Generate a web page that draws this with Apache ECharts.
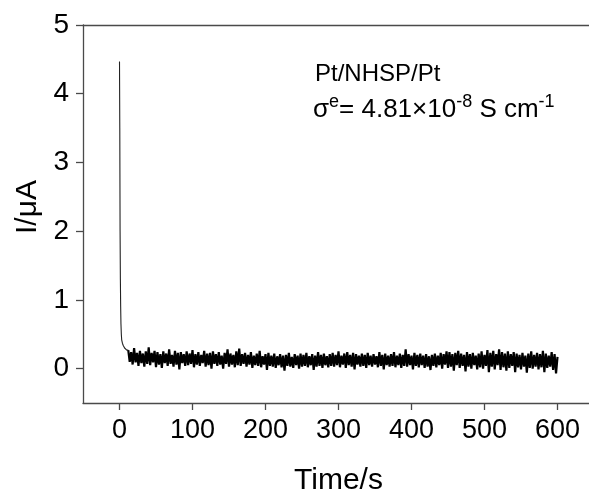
<!DOCTYPE html>
<html>
<head>
<meta charset="utf-8">
<script src="https://cdn.jsdelivr.net/npm/echarts@6/dist/echarts.min.js"></script>
<style>
  html, body { margin: 0; padding: 0; background: #fff; }
  #chart { width: 589px; height: 496px; }
</style>
</head>
<body>
<div id="chart"></div>
<script>
// initial decay right after the step (s, µA)
const decayTime = [0, 0.4, 0.8, 1.2, 1.6, 2, 2.5, 3, 4, 5, 6, 7, 8, 9, 10, 11, 12];
const decayCurrent = [4.47, 3.5, 2.0, 1.3, 0.9, 0.65, 0.5, 0.42, 0.37, 0.34, 0.32, 0.3, 0.29, 0.28, 0.27, 0.26, 0.27];

// steady-state current, sampled every 2 s from 12 s to 600 s
const baseStart = 12;
const baseStep = 2;
const baseCurrent = [
  0.27, 0.10, 0.24, 0.06, 0.30, 0.09, 0.23, 0.04, 0.26, 0.08, 0.22, 0.03, 0.25, 0.07, 0.31, 0.05, 0.23, 0.09, 0.26, 0.02,
  0.24, 0.06, 0.21, 0.01, 0.25, 0.08, 0.22, 0.04, 0.28, 0.07, 0.20, 0.03, 0.26, 0.06, 0.23, -0.01, 0.24, 0.08, 0.21, 0.04,
  0.25, 0.05, 0.22, 0.07, 0.27, 0.02, 0.21, 0.06, 0.24, 0.04, 0.20, 0.08, 0.26, 0.03, 0.22, 0.05, 0.23, 0.00, 0.25, 0.07,
  0.21, 0.04, 0.24, 0.06, 0.19, 0.00, 0.23, 0.07, 0.28, 0.03, 0.22, 0.06, 0.20, 0.02, 0.25, 0.05, 0.29, 0.04, 0.21, 0.07,
  0.23, 0.03, 0.20, 0.06, 0.24, 0.01, 0.19, 0.05, 0.22, 0.04, 0.26, 0.02, 0.18, 0.06, 0.21, -0.02, 0.23, 0.04, 0.19, 0.03,
  0.22, 0.01, 0.18, 0.05, 0.21, 0.02, 0.19, -0.03, 0.20, 0.04, 0.23, 0.03, 0.17, 0.01, 0.21, 0.05, 0.19, 0.00, 0.22, 0.03,
  0.20, 0.04, 0.23, 0.02, 0.18, 0.05, 0.21, -0.02, 0.19, 0.03, 0.24, 0.04, 0.20, 0.01, 0.22, 0.05, 0.18, 0.02, 0.21, 0.04,
  0.23, 0.03, 0.20, 0.05, 0.25, 0.02, 0.19, 0.06, 0.22, 0.01, 0.24, 0.05, 0.20, 0.03, 0.23, -0.01, 0.21, 0.06, 0.19, 0.03,
  0.22, 0.04, 0.20, 0.01, 0.23, 0.05, 0.19, 0.03, 0.21, 0.06, 0.18, 0.02, 0.24, 0.04, 0.20, -0.01, 0.22, 0.05, 0.19, 0.03,
  0.21, 0.04, 0.24, 0.02, 0.19, 0.05, 0.22, 0.01, 0.20, 0.04, 0.28, 0.03, 0.21, 0.05, 0.19, -0.01, 0.23, 0.04, 0.20, 0.02,
  0.22, 0.05, 0.19, 0.01, 0.21, 0.03, 0.18, -0.02, 0.20, 0.04, 0.22, 0.02, 0.19, 0.05, 0.23, 0.00, 0.21, 0.06, 0.25, 0.01,
  0.24, 0.03, 0.21, -0.03, 0.23, 0.05, 0.26, 0.01, 0.22, 0.04, 0.20, -0.04, 0.24, 0.03, 0.21, 0.00, 0.23, 0.05, 0.19, -0.01,
  0.22, 0.02, 0.25, 0.00, 0.20, 0.04, 0.27, -0.05, 0.23, 0.03, 0.26, -0.01, 0.21, 0.05, 0.28, -0.02, 0.24, 0.02, 0.22, -0.03,
  0.25, 0.01, 0.21, 0.04, 0.24, -0.05, 0.22, 0.02, 0.20, -0.01, 0.23, 0.03, 0.19, -0.06, 0.22, 0.01, 0.25, 0.00, 0.20, 0.03,
  0.23, -0.01, 0.21, 0.02, 0.26, -0.05, 0.22, 0.01, 0.19, 0.03, 0.24, -0.02, 0.21, -0.07, 0.17
];

const xTicks = [0, 100, 200, 300, 400, 500, 600];
const yTicks = [0, 1, 2, 3, 4, 5];

const decayPoints = decayTime.map((t, i) => [t, decayCurrent[i]]);
const basePoints = baseCurrent.map((v, i) => [baseStart + i * baseStep, v]);

const axisColor = '#4a4a4a';
const font = 'Liberation Sans, Arial, sans-serif';

const chart = echarts.init(document.getElementById('chart'));
chart.setOption({
  animation: false,
  grid: { left: 83, top: 25, right: -5, bottom: 93, outerBoundsMode: 'none', containLabel: false },
  xAxis: [{
    type: 'value',
    min: -50, max: 650,
    name: 'Time/s',
    nameLocation: 'middle',
    nameGap: 63,
    nameTextStyle: { fontFamily: font, fontSize: 30, color: '#000' },
    axisLine: { onZero: false, lineStyle: { color: axisColor, width: 1.3 } },
    axisTick: { show: true, inside: false, length: 7, customValues: xTicks, lineStyle: { color: axisColor, width: 1.3 } },
    axisLabel: { customValues: xTicks, margin: 14, fontFamily: font, fontSize: 27, color: '#000' },
    splitLine: { show: false }
  }, {
    // top frame line only
    type: 'value',
    position: 'top',
    min: -50, max: 650,
    axisLine: { show: true, onZero: false, lineStyle: { color: axisColor, width: 1.3 } },
    axisTick: { show: false },
    axisLabel: { show: false },
    splitLine: { show: false }
  }],
  yAxis: {
    type: 'value',
    min: -0.5, max: 5,
    name: 'I/μA',
    nameLocation: 'middle',
    nameGap: 40,
    nameRotate: 90,
    nameTextStyle: { fontFamily: font, fontSize: 30, color: '#000', padding: [0, 0, 0, 14] },
    axisLine: { onZero: false, lineStyle: { color: axisColor, width: 1.3 } },
    axisTick: { show: true, inside: false, length: 7, customValues: yTicks, lineStyle: { color: axisColor, width: 1.3 } },
    axisLabel: { customValues: yTicks, margin: 14, fontFamily: font, fontSize: 28, color: '#000' },
    splitLine: { show: false }
  },
  series: [{
    type: 'line',
    data: decayPoints,
    showSymbol: false,
    symbol: 'none',
    lineStyle: { color: '#222', width: 1.1 }
  }, {
    type: 'line',
    data: basePoints,
    showSymbol: false,
    symbol: 'none',
    sampling: false,
    lineStyle: { color: '#000', width: 2.2 }
  }],
  graphic: [
    {
      type: 'text', left: 315, top: 62,
      style: { text: 'Pt/NHSP/Pt', fontFamily: font, fontSize: 24, fill: '#000' }
    },
    {
      type: 'text', left: 313, top: 93,
      style: {
        text: '{b|σ}{s|e}{b|= 4.81×10}{s|-8}{b| S cm}{s|-1}',
        rich: {
          b: { fontFamily: font, fontSize: 26, fill: '#000', lineHeight: 30, verticalAlign: 'bottom' },
          s: { fontFamily: font, fontSize: 18, fill: '#000', lineHeight: 30, verticalAlign: 'top' }
        }
      }
    }
  ]
});
</script>
</body>
</html>
